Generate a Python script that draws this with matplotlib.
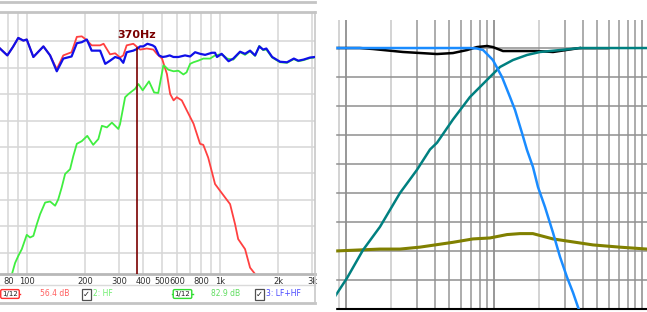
import matplotlib
matplotlib.use("Agg")
import matplotlib.pyplot as plt
from matplotlib.lines import Line2D
from matplotlib.patches import Rectangle

# ---- left panel: measured LF / HF / LF+HF (Hz, dB) ----
lf_freq = [72.4, 79, 84.5, 90, 95.7, 99.6, 107.8, 121.5, 131.6, 142.5, 154, 170, 181, 192, 202,
           216, 239, 249, 269, 286, 303, 315, 328, 355, 385, 417, 451, 470, 500, 530, 551, 574,
           596, 633, 672, 728, 787, 818, 867, 941, 1000, 1126, 1195, 1240, 1346, 1429, 1517, 1610]
lf_db = [83.6, 82.3, 83.9, 85.6, 85.1, 85.3, 82.0, 84.0, 82.3, 79.7, 82.3, 82.9, 85.8, 85.9, 85.3,
         84.2, 84.2, 84.5, 82.5, 82.7, 81.9, 82.3, 84.2, 84.5, 83.4, 83.6, 83.4, 82.6, 81.7, 78.8,
         75.0, 73.8, 74.4, 73.8, 71.9, 69.4, 65.6, 65.4, 63.0, 58.0, 56.7, 54.2, 50.4, 47.6, 45.7,
         42.2, 41.0, 38.7]

hf_freq = [81.6, 86.7, 90, 93.9, 99.6, 103.6, 107.8, 112.3, 116.8, 124, 131.6, 139.7, 145, 151,
           157.4, 167, 173.6, 181, 192, 205, 220, 234, 244, 259, 275, 297, 303, 322, 335, 363, 377,
           397, 428, 455, 478, 508, 519, 539, 574, 608, 645, 670, 699, 727, 770, 818, 887, 941,
           1000, 1040, 1088, 1170, 1268, 1346, 1429, 1517, 1595, 1670, 1735, 1860, 2044, 2220,
           2410, 2540, 2700, 2923, 3100]
hf_db = [39.7, 43.1, 44.4, 45.7, 48.4, 47.9, 48.2, 50.4, 52.3, 54.5, 54.7, 53.9, 55.1, 57.3,
         59.9, 60.8, 63.3, 65.6, 66.1, 67.1, 65.4, 66.5, 69.0, 68.7, 69.6, 68.4, 69.3, 74.4, 75.0,
         76.0, 76.9, 75.7, 77.4, 75.3, 75.2, 80.4, 80.2, 79.6, 79.3, 79.4, 78.7, 79.1, 80.7, 81.0,
         81.3, 81.7, 81.7, 82.3, 82.5, 82.3, 81.7, 81.5, 82.9, 82.4, 83.1, 82.2, 84.1, 83.3, 83.4,
         81.9, 81.0, 80.9, 81.6, 81.2, 81.4, 81.8, 81.9]

sum_freq = [72.4, 79, 84.5, 90, 95.7, 99.6, 107.8, 121.5, 131.6, 142.5, 154, 170, 181, 192, 204,
            216, 239, 254, 269, 286, 303, 315, 328, 355, 370, 385, 400, 420, 447, 460, 482, 503,
            525, 548, 573, 608, 658, 699, 742, 787, 836, 906, 941, 963, 1018, 1106, 1170, 1268,
            1346, 1429, 1517, 1595, 1670, 1735, 1860, 2044, 2220, 2410, 2540, 2700, 2923, 3100]
sum_db = [83.6, 82.3, 83.9, 85.6, 85.1, 85.3, 82.0, 84.0, 82.3, 79.3, 81.7, 82.1, 84.6, 84.8, 85.3,
          83.2, 83.2, 80.7, 81.3, 82.0, 81.7, 80.9, 82.9, 83.2, 83.5, 84.0, 84.0, 84.5, 84.2, 83.9,
          82.3, 82.0, 82.1, 82.3, 82.0, 82.0, 82.3, 82.1, 82.9, 82.6, 82.4, 82.8, 82.8, 82.0, 82.6,
          81.2, 81.7, 83.0, 82.6, 83.2, 82.3, 84.0, 83.4, 83.6, 82.0, 81.1, 81.0, 81.7, 81.3, 81.5,
          81.9, 82.0]

cursor_freq = 370
cursor_db = 83.7
left_ticks = [80, 100, 200, 300, 400, 500, 600, 800, 1000, 2000, 3000]
left_labels = ["80", "100", "200", "300", "400", "500", "600", "800", "1k", "2k", "3k"]

# ---- right panel: simulated filter responses (Hz, dB) ----
lp_freq = [84.3, 688, 767, 843, 983, 1133, 1283, 1387, 1546, 1671, 1834, 1983, 2211, 2504, 2792,
           3113, 3419, 3695, 3812]
lp_db = [0, 0, -0.05, -0.2, -1.24, -3.0, -5.07, -6.41, -8.79, -10.55, -12.31, -14.38, -16.45,
         -19.1, -21.6, -23.7, -25.3, -26.8, -27.3]

hp_freq = [84.3, 101.6, 130.3, 169.7, 231.7, 301.8, 369.4, 412, 528, 688, 897, 1098, 1344, 1671,
           2046, 2792, 3812, 10810]
hp_db = [-25.7, -23.8, -20.9, -18.5, -15.0, -12.6, -10.5, -9.8, -7.4, -5.07, -3.3, -1.96, -1.24,
         -0.72, -0.41, -0.21, 0, 0]

tot_freq = [84.3, 124, 152, 243, 412, 528, 657, 767, 897, 983, 1150, 1499, 1951, 2504, 3419, 3812]
tot_db = [0, 0, -0.1, -0.41, -0.62, -0.52, -0.21, 0.1, 0.21, 0.1, -0.31, -0.31, -0.31, -0.41,
          -0.1, 0]

ph_freq = [84.3, 169.7, 231.7, 316, 528, 721, 939, 1224, 1499, 1831, 2504, 3419, 4666, 7070, 10810]
ph_db = [-21.0, -20.8, -20.8, -20.6, -20.1, -19.75, -19.65, -19.3, -19.2, -19.2, -19.75, -20.06,
         -20.37, -20.6, -20.8]

W, H = 647, 312
fig = plt.figure(figsize=(W / 100, H / 100), dpi=100)
fig.patch.set_facecolor("white")


def fx(px):
    return px / W


def fy(py):
    return 1 - py / H


# left axes
ax1 = fig.add_axes([0, fy(274), fx(315), (274 - 12) / H])
ax1.set_xscale("log")
ax1.set_xlim(72.4, 3100)
ax1.set_ylim(41, 90.5)
for f in [80, 90, 100, 200, 300, 400, 500, 600, 700, 800, 900, 1000, 2000, 3000]:
    ax1.axvline(f, color="#d6d6d6", lw=1.1, zorder=0)
for d in [45, 50, 55, 60, 65, 70, 75, 80, 85]:
    ax1.axhline(d, color="#d6d6d6", lw=1.1, zorder=0)

ax1.plot(lf_freq, lf_db, color="#ff4040", lw=1.3, zorder=2)
ax1.plot(hf_freq, hf_db, color="#40ee40", lw=1.3, zorder=2)
ax1.plot(sum_freq, sum_db, color="#1010e8", lw=1.6, zorder=3)
ax1.plot([cursor_freq, cursor_freq], [cursor_db, 41], color="#7a0000", lw=1.2, zorder=4)
ax1.text(cursor_freq, 86.1, "370Hz", color="#7a0000", fontsize=8, fontweight="bold",
         ha="center", va="center")

ax1.set_xticks(left_ticks)
ax1.set_xticklabels(left_labels)
ax1.minorticks_off()
ax1.set_yticks([])
ax1.tick_params(axis="x", length=0, pad=2.5, labelsize=6, labelcolor="#303030")
ax1.spines["left"].set_visible(False)
ax1.spines["top"].set_color("#c4c4c4")
ax1.spines["top"].set_linewidth(2)
ax1.spines["bottom"].set_color("#b8b8b8")
ax1.spines["bottom"].set_linewidth(2)
ax1.spines["right"].set_color("#c8c8c8")
ax1.spines["right"].set_linewidth(1.2)

# frame lines around the left window
for y, c, w in [(2, "#c4c4c4", 2), (285, "#dadada", 1), (303, "#c4c4c4", 2)]:
    fig.add_artist(Line2D([0, fx(315)], [fy(y), fy(y)], color=c, lw=w))
fig.add_artist(Line2D([fx(315), fx(315)], [fy(274), fy(303)], color="#c8c8c8", lw=1.2))

# legend row
ly = fy(294)
for x0, x1, cx, col in [(0, 20, 10, "#ff3030"), (172, 193, 182.5, "#30dd30")]:
    fig.add_artist(Line2D([fx(x0), fx(x1)], [ly, ly], color=col, lw=1))
    fig.text(fx(cx), ly, "1/12", fontsize=5, color="#202020", ha="center", va="center",
             bbox=dict(boxstyle="round,pad=0.2", fc="white", ec=col, lw=1))
fig.text(fx(40), ly, "56.4 dB", fontsize=5.5, color="#ff6060", va="center")
fig.text(fx(211), ly, "82.9 dB", fontsize=5.5, color="#60dd60", va="center")
for cx in [86.5, 259.5]:
    fig.text(fx(cx), ly, "\u2713", fontsize=6, color="#202020", ha="center", va="center",
             fontweight="bold",
             bbox=dict(boxstyle="square,pad=0.12", fc="white", ec="#505050", lw=0.9))
fig.text(fx(93), ly, "2: HF", fontsize=5.5, color="#70ee70", va="center")
fig.text(fx(266), ly, "3: LF+HF", fontsize=5.5, color="#4848ff", va="center")

# right axes
ax2 = fig.add_axes([fx(335), fy(309), fx(647 - 335), (309 - 20) / H])
ax2.set_xscale("log")
ax2.set_xlim(84.3, 10810)
ax2.set_ylim(-27, 2.9)
for dec in [10, 100, 1000]:
    for m in range(1, 10):
        f = dec * m
        if f < 84 or f > 10810:
            continue
        if m == 1:
            c = "#7c7c7c"
        elif m == 2 or f == 90:
            c = "#c8c8c8"
        else:
            c = "#969696"
        ax2.axvline(f, color=c, lw=1.1, zorder=0)
ax2.axvline(10000, color="#8a8a8a", lw=1.1, zorder=0)
for d in [0, -3, -6, -9, -12, -15, -18, -21, -24]:
    ax2.axhline(d, color="#909090", lw=1.1, zorder=0)

ax2.plot(ph_freq, ph_db, color="#808000", lw=2.2, zorder=2)
ax2.plot(tot_freq, tot_db, color="black", lw=1.8, zorder=2)
ax2.plot([3812, 5860], [0, 0], color="#808080", lw=1.8, zorder=2)
ax2.plot(hp_freq, hp_db, color="#008080", lw=1.8, zorder=3)
ax2.plot(lp_freq, lp_db, color="#1a8cff", lw=1.8, zorder=4)

ax2.set_xticks([])
ax2.set_yticks([])
ax2.minorticks_off()
for s in ["top", "left", "right"]:
    ax2.spines[s].set_visible(False)
ax2.spines["bottom"].set_color("black")
ax2.spines["bottom"].set_linewidth(1.5)

# blank strip between the two screenshots
fig.add_artist(Rectangle((fx(318), 0), fx(335 - 318), 1, transform=fig.transFigure,
                         color="white", zorder=10))

fig.savefig("out.png", dpi=100)
